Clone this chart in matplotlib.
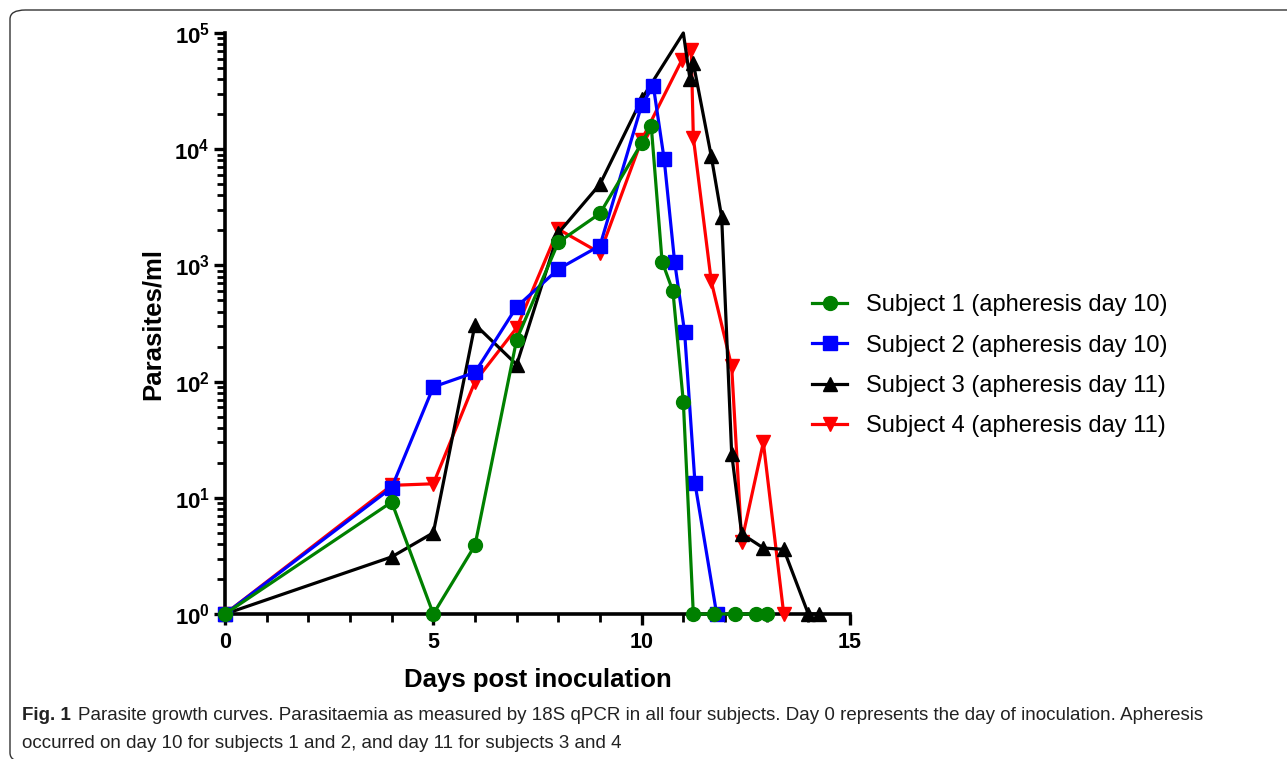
import matplotlib
matplotlib.use("Agg")
import matplotlib.pyplot as plt
from matplotlib.patches import FancyBboxPatch
from matplotlib.ticker import LogLocator, FixedLocator, NullFormatter, FixedFormatter

plt.rcParams['font.family'] = ['Liberation Sans', 'DejaVu Sans']
plt.rcParams['mathtext.fontset'] = 'custom'
plt.rcParams['mathtext.bf'] = 'Liberation Sans:bold'
plt.rcParams['mathtext.rm'] = 'Liberation Sans'

# ---- data ----
s1_days = [0, 4, 5, 6, 7, 8, 9, 10, 10.23, 10.49, 10.75, 11.0, 11.24, 11.74, 12.24, 12.74, 13.0]
s1_vals = [1, 9.2, 1, 3.9, 230, 1580, 2800, 11300, 15800, 1080, 600, 67, 1, 1, 1, 1, 1]

s2_days = [0, 4, 5, 6, 7, 8, 9, 10, 10.28, 10.54, 10.79, 11.03, 11.28, 11.8]
s2_vals = [1, 12.2, 90, 120, 440, 930, 1480, 24000, 35000, 8200, 1080, 268, 13.3, 1]

s3_days = [0, 4, 5, 6, 7, 8, 9, 10, 11.0, 11.16, 11.24, 11.67, 11.92, 12.16, 12.40, 12.92, 13.41, 14.0, 14.25]
s3_vals = [1, 3.1, 5.0, 310, 140, 1900, 5000, 27000, 100000, 40000, 55000, 8700, 2600, 24, 4.9, 3.7, 3.6, 1, 1]

s4_days = [0, 4, 5, 6, 7, 8, 9, 10, 10.96, 11.19, 11.24, 11.67, 12.16, 12.40, 12.92, 13.41]
s4_vals = [1, 12.8, 13.2, 100, 290, 2050, 1280, 12000, 58000, 72000, 12600, 730, 135, 4.2, 30, 1]

labels = ["Subject 1 (apheresis day 10)", "Subject 2 (apheresis day 10)",
          "Subject 3 (apheresis day 11)", "Subject 4 (apheresis day 11)"]
colors = ["#008000", "#0000FF", "#000000", "#FF0000"]
markers = ["o", "s", "^", "v"]

x_ticks = [0, 5, 10, 15]
y_ticks = [1, 10, 100, 1000, 10000, 100000]
y_ticklabels = [r"$\mathbf{10^{%d}}$" % i for i in range(6)]

fig = plt.figure(figsize=(12.87, 7.59), dpi=100)

# outer rounded frame
frame = FancyBboxPatch((10 / 1287, -3 / 759), 1.2, (749 + 3) / 759,
                       boxstyle="round,pad=0,rounding_size=0.012",
                       transform=fig.transFigure, fill=False,
                       edgecolor="#333333", linewidth=1.0, clip_on=False)
fig.patches.append(frame)

ax = fig.add_axes([225 / 1287, (759 - 614) / 759, (850 - 225) / 1287, (614 - 33) / 759])

series = [(s1_days, s1_vals), (s2_days, s2_vals), (s3_days, s3_vals), (s4_days, s4_vals)]
zorders = [6, 5, 4, 3]
for i, ((d, v), lab, c, m) in enumerate(zip(series, labels, colors, markers)):
    markevery = None
    if i == 2:
        markevery = [k for k in range(len(v)) if v[k] < 100000]
    ax.plot(d, v, color=c, marker=m, markersize=10,
            linewidth=2.3, label=lab, clip_on=False, zorder=zorders[i],
            markevery=markevery)

ax.set_yscale("log")
ax.set_xlim(0, 15)
ax.set_ylim(1, 100000)

for side in ["top", "right"]:
    ax.spines[side].set_visible(False)
for side in ["left", "bottom"]:
    ax.spines[side].set_linewidth(2.6)

ax.xaxis.set_major_locator(FixedLocator(x_ticks))
ax.xaxis.set_minor_locator(FixedLocator([k for k in range(16) if k % 5]))
ax.yaxis.set_major_locator(FixedLocator(y_ticks))
ax.yaxis.set_major_formatter(FixedFormatter(y_ticklabels))
ax.yaxis.set_minor_locator(LogLocator(base=10, subs=range(2, 10), numticks=20))
ax.yaxis.set_minor_formatter(NullFormatter())

ax.tick_params(axis="y", which="major", direction="out", length=8, width=2.4,
               labelsize=16, pad=3)
ax.tick_params(axis="x", which="major", direction="out", length=8, width=2.4,
               labelsize=15.5, pad=5)
ax.tick_params(axis="both", which="minor", direction="out", length=6, width=2.0)
for t in ax.get_xticklabels():
    t.set_fontweight("bold")

ax.set_xlabel("Days post inoculation", fontsize=18.5, fontweight="bold", labelpad=11)
ax.set_ylabel("Parasites/ml", fontsize=18.5, fontweight="bold", labelpad=7)

fig.legend(loc="upper left", bbox_to_anchor=(803 / 1287, 1 - 285 / 759),
           frameon=False, fontsize=17, handlelength=1.45, handletextpad=0.8,
           labelspacing=0.77, borderaxespad=0)

# caption
cap_font = ['Liberation Sans', 'DejaVu Sans']
fig.text(22 / 1287, 1 - 716 / 759, "Fig. 1", fontsize=13.5, fontweight="bold",
         family=cap_font, va="center", color="#222222")
fig.text(78 / 1287, 1 - 716 / 759,
         "Parasite growth curves. Parasitaemia as measured by 18S qPCR in all four subjects. "
         "Day 0 represents the day of inoculation. Apheresis",
         fontsize=13.5, family=cap_font, va="center", color="#222222")
fig.text(22 / 1287, 1 - 744 / 759,
         "occurred on day 10 for subjects 1 and 2, and day 11 for subjects 3 and 4",
         fontsize=13.5, family=cap_font, va="center", color="#222222")

fig.savefig("out.png", dpi=100)
